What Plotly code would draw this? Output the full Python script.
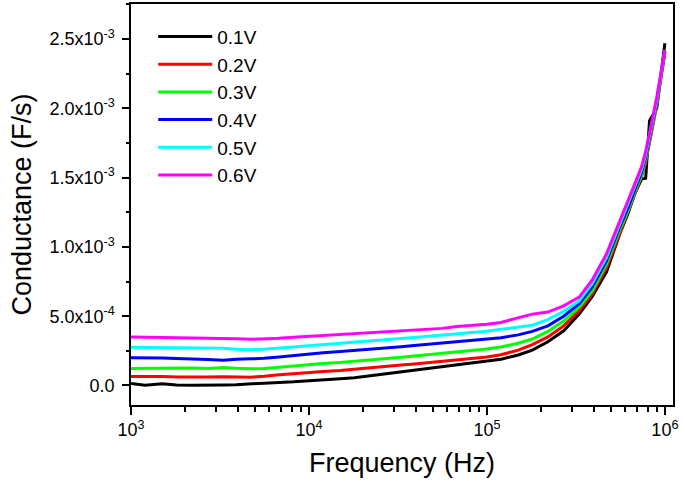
import plotly.graph_objects as go

freq = [1000, 1200, 1500, 1800, 2200, 2700, 3300, 3900, 4700, 5600, 6800, 8200,
        10000, 12000, 15000, 18000, 22000, 27000, 33000, 39000, 47000, 56000, 68000, 82000,
        100000, 120000, 150000, 180000, 220000, 270000, 330000, 390000, 470000, 560000,
        620000, 680000, 740000, 780000, 820000, 900000, 1000000]

# conductance values in units of 1e-4 F/s
g_01 = [0.15, 0.02, 0.12, 0.03, 0.02, 0.01, 0.04, 0.06, 0.12, 0.20, 0.22, 0.26,
        0.32, 0.40, 0.48, 0.56, 0.70, 0.85, 0.98, 1.10, 1.22, 1.35, 1.46, 1.58,
        1.72, 1.90, 2.20, 2.55, 3.15, 3.95, 5.15, 6.40, 8.20, 11.0,
        12.4, 13.9, 14.9, 14.95, 19.1, 20.0, 24.7]
g_02 = [0.65, 0.66, 0.64, 0.62, 0.60, 0.61, 0.63, 0.62, 0.60, 0.66, 0.78, 0.84,
        0.90, 1.00, 1.08, 1.18, 1.27, 1.37, 1.47, 1.55, 1.64, 1.73, 1.83, 1.94,
        2.06, 2.22, 2.55, 2.95, 3.50, 4.30, 5.40, 6.60, 8.50, 11.1,
        12.5, 13.9, 15.1, 16.1, 17.5, 20.2, 24.0]
g_03 = [1.22, 1.24, 1.25, 1.26, 1.26, 1.23, 1.30, 1.24, 1.20, 1.22, 1.32, 1.42,
        1.52, 1.58, 1.66, 1.76, 1.84, 1.95, 2.04, 2.12, 2.22, 2.32, 2.42, 2.53,
        2.64, 2.78, 3.05, 3.35, 3.90, 4.65, 5.65, 6.80, 8.75, 11.3,
        12.6, 14.0, 15.2, 16.3, 17.7, 20.4, 24.1]
g_04 = [2.00, 2.01, 1.98, 1.95, 1.93, 1.88, 1.82, 1.90, 1.92, 1.96, 2.06, 2.17,
        2.28, 2.36, 2.45, 2.52, 2.62, 2.72, 2.80, 2.88, 2.97, 3.05, 3.13, 3.22,
        3.33, 3.45, 3.65, 3.90, 4.30, 5.00, 5.90, 7.10, 9.00, 11.5,
        12.8, 14.2, 15.4, 16.5, 17.9, 20.5, 24.1]
g_05 = [2.75, 2.74, 2.72, 2.70, 2.68, 2.66, 2.68, 2.62, 2.58, 2.62, 2.70, 2.80,
        2.88, 2.95, 3.02, 3.10, 3.18, 3.28, 3.38, 3.46, 3.55, 3.63, 3.72, 3.80,
        3.92, 4.05, 4.22, 4.35, 4.75, 5.35, 6.10, 7.35, 9.25, 11.7,
        13.0, 14.4, 15.6, 16.7, 18.0, 20.6, 24.2]
g_06 = [3.49, 3.50, 3.47, 3.45, 3.44, 3.45, 3.42, 3.38, 3.33, 3.34, 3.40, 3.48,
        3.55, 3.62, 3.68, 3.72, 3.80, 3.88, 3.95, 4.00, 4.05, 4.12, 4.25, 4.33,
        4.42, 4.55, 4.85, 5.15, 5.30, 5.75, 6.38, 7.60, 9.50, 11.9,
        13.2, 14.6, 15.8, 16.9, 18.2, 20.8, 24.2]

series_names = ["0.1V", "0.2V", "0.3V", "0.4V", "0.5V", "0.6V"]
series_vals = [g_01, g_02, g_03, g_04, g_05, g_06]
colors = ["#000000", "#FF0000", "#00FF00", "#0000FF", "#00FFFF", "#FF00FF"]

y_tickvals = [0, 5e-4, 1e-3, 1.5e-3, 2e-3, 2.5e-3]
y_ticktext = ["0.0", "5.0x10<sup>-4</sup>", "1.0x10<sup>-3</sup>", "1.5x10<sup>-3</sup>",
              "2.0x10<sup>-3</sup>", "2.5x10<sup>-3</sup>"]
x_tickvals = [1e3, 1e4, 1e5, 1e6]
x_ticktext = ["10<sup>3</sup>", "10<sup>4</sup>", "10<sup>5</sup>", "10<sup>6</sup>"]
x_minor = [m * d for d in (1e3, 1e4, 1e5) for m in range(2, 10)]

FONT = "Liberation Sans, Arial, sans-serif"

fig = go.Figure()
for name, vals, col in zip(series_names, series_vals, colors):
    fig.add_trace(go.Scatter(
        x=freq, y=[v * 1e-4 for v in vals], mode="lines", name=name,
        line=dict(color=col, width=3), legendgroup=name,
    ))

fig.update_layout(
    width=685, height=483,
    margin=dict(l=131, r=12, t=4, b=78),
    paper_bgcolor="white", plot_bgcolor="white",
    font=dict(family=FONT, color="black"),
    showlegend=True,
    legend=dict(x=0.041, y=0.966, xanchor="left", yanchor="top",
                bgcolor="rgba(0,0,0,0)", font=dict(size=19, family=FONT),
                itemwidth=54, tracegroupgap=0),
    xaxis=dict(
        type="log", range=[3, 6.0456], automargin=False,
        tickvals=x_tickvals, ticktext=x_ticktext,
        ticks="outside", ticklen=8, tickwidth=1.5, tickcolor="black",
        minor=dict(tickvals=x_minor, ticks="outside", ticklen=5, tickwidth=1.5, tickcolor="black"),
        showline=True, linecolor="black", linewidth=1.5, mirror=True,
        showgrid=False, zeroline=False,
        tickfont=dict(size=18, family=FONT),
        title=dict(text="Frequency (Hz)", font=dict(size=27, family=FONT), standoff=14),
    ),
    yaxis=dict(
        range=[-1.409e-4, 2.7529e-3], automargin=False,
        tickvals=y_tickvals, ticktext=y_ticktext,
        ticks="outside", ticklen=7, tickwidth=1.5, tickcolor="black",
        minor=dict(dtick=2.5e-4, tick0=0, ticks="outside", ticklen=3, tickwidth=1.5, tickcolor="black"),
        showline=True, linecolor="black", linewidth=1.5, mirror=True,
        showgrid=False, zeroline=False, ticklabelstandoff=4,
        tickfont=dict(size=18, family=FONT),
        title=dict(text="Conductance (F/s)", font=dict(size=27, family=FONT), standoff=10),
    ),
)

fig.write_html("out.html", config={"displayModeBar": False},
               post_script="document.body.style.margin='0px';")
